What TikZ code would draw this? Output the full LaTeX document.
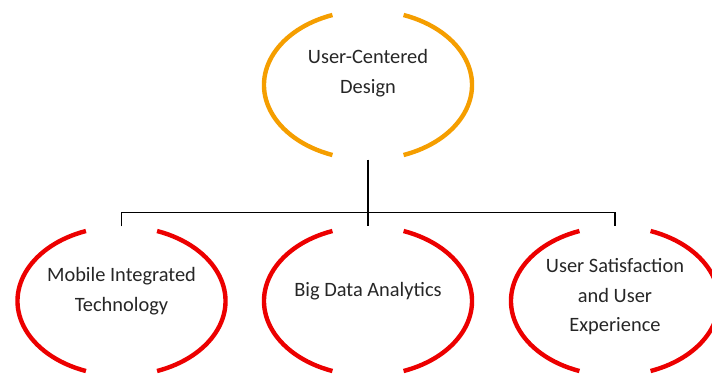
\documentclass[tikz,border=0pt]{standalone}
\usepackage{fontspec}
\setmainfont{Carlito}
\usepackage{tikz}
\usetikzlibrary{shapes.geometric}
\definecolor{ringorange}{RGB}{245,158,0}
\definecolor{ringred}{RGB}{236,0,0}

\begin{document}
\begin{tikzpicture}[x=1pt, y=1pt,
    hub/.style={ellipse, minimum width=208pt, minimum height=149pt, inner sep=0pt},
    caption/.style={align=center, font=\fontsize{20.4}{29.5}\selectfont, text=black!85},
    link/.style={line width=1.4pt}]
    \useasboundingbox (0,0) rectangle (712,-376);
    % invisible ellipses carry the names
    \node[hub] (ucd) at (368,-85) {};
    \node[hub] (mit) at (121.5,-301) {};
    \node[hub] (bda) at (368,-301) {};
    \node[hub] (usx) at (615,-301) {};
    % each outline: two arcs, open at top and bottom
    \foreach \n/\c in {ucd/ringorange, mit/ringred, bda/ringred, usx/ringred} {
        \draw[\c, line width=4.4pt] ([shift={(110:104pt and 74.5pt)}]\n.center)
            arc[start angle=110, end angle=250, x radius=104pt, y radius=74.5pt];
        \draw[\c, line width=4.4pt] ([shift={(-70:104pt and 74.5pt)}]\n.center)
            arc[start angle=-70, end angle=70, x radius=104pt, y radius=74.5pt];
    }
    \node[caption] (ucdtext) at ([yshift=12]ucd) {User-Centered\\Design};
    \node[caption] (mittext) at ([yshift=10]mit) {Mobile Integrated\\Technology};
    \node[caption] (bdatext) at ([yshift=10]bda) {Big Data Analytics};
    \node[caption] (usxtext) at ([yshift=4]usx) {User Satisfaction\\and User\\Experience};
    % tree lines
    \draw[link] (ucd.south) -- (bda.north);
    \draw[link] (mit.north) |- ([yshift=14]bda.north) -| (usx.north);
\end{tikzpicture}
\end{document}
